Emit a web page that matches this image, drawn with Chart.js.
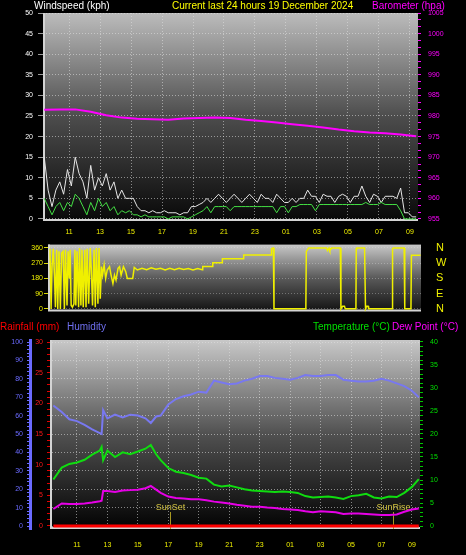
<!DOCTYPE html>
<html>
<head>
<meta charset="utf-8">
<script src="https://cdn.jsdelivr.net/npm/chart.js"></script>
<style>
  body { margin: 0; background: #000; }
  #wrap { position: relative; width: 466px; height: 555px; background: #000; overflow: hidden;
          font-family: "Liberation Sans", Arial, sans-serif; }
  #wrap canvas { position: absolute; left: 0; }
  .lbl { position: absolute; font-size: 10px; line-height: 12px; white-space: nowrap; }
</style>
</head>
<body>
<div id="wrap">
  <canvas id="wind" width="466" height="240" style="top:0"></canvas>
  <canvas id="dir" width="466" height="80" style="top:238px"></canvas>
  <canvas id="env" width="466" height="237" style="top:318px"></canvas>

  <span class="lbl" style="left:34px;top:0;color:#ffffff">Windspeed (kph)</span>
  <span class="lbl" style="left:172px;top:0;color:#ffff00">Current last 24 hours 19 December 2024</span>
  <span class="lbl" style="left:372px;top:0;color:#ff00ff">Barometer (hpa)</span>

  <span class="lbl" style="left:0;top:321px;color:#ff0000">Rainfall (mm)</span>
  <span class="lbl" style="left:67px;top:321px;color:#7070f0">Humidity</span>
  <span class="lbl" style="left:313px;top:321px;color:#00e000">Temperature (°C)</span>
  <span class="lbl" style="left:392px;top:321px;color:#ff00ff">Dew Point (°C)</span>
</div>
<script>
// hours counted from midnight 18 Dec (25 = 01:00 on the 19th)
const tickHours = [11, 13, 15, 17, 19, 21, 23, 25, 27, 29, 31, 33];
const tickLabels = ['11', '13', '15', '17', '19', '21', '23', '01', '03', '05', '07', '09'];

// wind speed, one reading every quarter hour from 09:24
const windStart = 9.4;
const windStep = 0.25;
const windGust = [15, 7,
  3, 7, 9, 6,  12, 8, 15, 11,  9, 5, 13, 7,  10, 8, 11, 7,  9, 5, 7, 5,
  5, 5, 3, 2,  2, 1.5, 2, 1.5,  1.5, 2, 1.5, 1.5,  1.5, 1, 1.5, 1.5,  3, 3, 3.5, 4,
  5, 4, 5, 6,  5, 4, 5, 6,  5, 4, 5, 6,  5, 4, 6, 5,  5, 4, 6, 5,  4, 4, 5, 4,
  5, 5, 7, 5.5,  5.5, 4, 6, 5.5,  5.5, 4, 5.5, 6,  5.5, 4, 5.5, 5.5,  8, 5.5, 4, 6,
  5.5, 4, 5.5, 5.5,  5.5, 5, 7.5, 1.5,  1.5, 0.5, 0.5];
const windAvg = [5, 3,
  1, 3, 4, 2,  4, 3, 6, 5,  3, 1, 4, 2,  5, 3, 4, 2,  3, 1, 2, 1.5,
  2, 1, 1, 0.5,  1, 0.5, 0.5, 0.5,  0.5, 0.5, 0, 0.5,  0.5, 0.5, 0.5, 0,  0.5, 1, 1.5, 2,
  3, 1.5, 3, 3,  3, 3, 2, 3,  3, 3, 3, 3,  3, 3, 3, 3,  3, 3, 1.5, 3,  3, 1.5, 3, 3,
  3.5, 3.5, 3.5, 3.5,  2, 3.5, 3.5, 3.5,  3.5, 3.5, 3.5, 3.5,  3.5, 3.5, 3.5, 3.5,  3.5, 4, 3.5, 3.5,
  3.5, 4, 3.5, 3.5,  3.5, 3.5, 2, 0,  0, 0, 0];

// barometer, hourly from 09:24
const baroStart = 9.4;
const baroValues = [981.5, 981.6, 981.6, 981.0, 980.2, 979.6, 979.3, 979.2, 979.1, 979.4, 979.5, 979.6,
  979.5, 979.1, 978.8, 978.4, 978.0, 977.6, 977.2, 976.7, 976.3, 976.0, 975.8, 975.5, 975.1];

// wind direction (degrees)
const dirTimes = [9.45, 9.52, 9.58, 9.66, 9.74, 9.8, 9.88, 9.95, 10.03, 10.12, 10.2, 10.3, 10.38, 10.45,
  10.55, 10.62, 10.7, 10.75, 10.82, 10.9, 11.0, 11.06, 11.12, 11.2, 11.3, 11.36, 11.45, 11.52, 11.6,
  11.7, 11.78, 11.85, 11.95, 12.05, 12.12, 12.2, 12.3, 12.38, 12.45, 12.55, 12.62, 12.7, 12.78, 12.85,
  12.95, 13.05, 13.15, 13.3, 13.4, 13.52, 13.62, 13.72, 13.85, 13.95, 14.05, 14.2, 14.35, 14.45, 14.8,
  14.9, 15.1, 15.4, 15.7, 16.0, 16.3, 16.6, 16.9, 17.2, 17.5, 17.8, 18.1, 18.4, 18.7, 19.0, 19.3,
  19.33, 19.95, 19.98, 20.58, 20.6, 21.96, 21.98, 23.75, 23.78, 23.9, 23.94, 26.0, 26.03, 26.18,
  27.34, 27.4, 27.5, 27.55, 27.67, 28.23, 28.27, 28.38, 28.5, 28.55, 29.24, 29.26, 29.3, 29.8, 29.86,
  29.93, 30.03, 30.06, 31.58, 31.61, 31.66, 32.36, 32.4, 32.8, 32.83, 33.42];
const dirValues = [355, 0, 250, 355, 200, 10, 350, 0, 340, 0, 330, 340, 0, 350,
  20, 340, 180, 350, 20, 10, 30, 350, 20, 340, 10, 360, 20, 350, 10,
  350, 10, 355, 30, 360, 240, 20, 350, 10, 360, 30, 360, 60, 250, 200,
  260, 180, 230, 250, 200, 150, 200, 170, 240, 250, 200, 250, 220, 180, 180,
  245, 230, 240, 232, 243, 235, 240, 230, 240, 232, 240, 233, 238, 230, 238, 232,
  250, 250, 273, 273, 296, 296, 318, 318, 355, 360, 0, 0, 340, 360,
  360, 345, 360, 345, 360, 360, 0, 15, 15, 0, 0, 355, 360, 360, 0,
  15, 15, 0, 0, 355, 360, 360, 0, 0, 317, 317];
const compassTicks = [0, 90, 180, 270, 360];
const compassLabels = ['N', 'E', 'S', 'W', 'N'];

// humidity, temperature, dew point
const envTimes = [9.45, 10, 10.5, 11, 11.5, 12, 12.5, 12.62, 12.72, 13, 13.5, 14, 14.5, 15, 15.5, 15.85,
  16.2, 16.5, 17, 17.5, 18, 18.5, 19, 19.5, 20, 20.5, 21, 21.5, 22, 22.5, 23, 23.5, 24, 24.5, 25, 25.5,
  26, 26.5, 27, 27.5, 28, 28.5, 29, 29.5, 30, 30.5, 31, 31.5, 32, 32.5, 33, 33.45];
const humidity = [65.5, 62, 58, 57, 55, 52.5, 50.5, 50, 63, 58.5, 60.5, 59, 60.5, 60, 58.5, 56,
  59.5, 60, 66, 69, 70.5, 71.5, 73, 72.5, 79, 78, 77, 77.5, 79, 80, 81.5, 81.5, 80.5, 80, 79.5, 80.5,
  82, 81.5, 81.5, 82, 82, 79.5, 79, 78.5, 78.5, 79, 80, 79, 77.5, 76, 73.5, 70];
const temperature = [10.1, 12.7, 13.5, 13.8, 14.4, 15.5, 16.4, 17.2, 14.3, 16.4, 15.0, 16.0, 15.6, 16.2, 16.8, 17.6,
  15.6, 14.3, 12.6, 11.8, 11.5, 11.1, 10.5, 10.3, 9.0, 8.6, 8.8, 8.4, 8.0, 7.7, 7.6, 7.5, 7.4, 7.5, 7.4, 7.2,
  6.5, 6.2, 6.3, 6.4, 6.2, 5.9, 6.5, 6.7, 7.0, 6.2, 6.0, 6.4, 6.3, 7.2, 8.5, 10.2];
const dewPoint = [3.7, 4.9, 4.8, 4.8, 4.9, 5.1, 5.4, 5.5, 7.6, 7.6, 7.4, 7.7, 7.8, 7.9, 8.2, 8.7,
  7.9, 7.2, 6.4, 6.1, 6.0, 5.8, 5.8, 5.6, 5.3, 5.1, 4.9, 4.6, 4.4, 4.2, 4.2, 4.0, 3.9, 3.7, 3.6, 3.5,
  3.2, 3.0, 3.2, 3.1, 3.0, 2.6, 2.7, 2.7, 2.6, 2.5, 2.4, 2.4, 2.5, 3.1, 3.6, 3.8];
const rainTimes = [9.45, 33.45];
const rainfall = [0, 0];

const sunEvents = [{ label: 'SunSet', hour: 17.1 }, { label: 'SunRise', hour: 31.77 }];

Chart.defaults.font.family = '"Liberation Sans", Arial, sans-serif';
Chart.defaults.font.size = 7;

const GRID = 'rgba(225,225,225,0.55)';

function pts(times, values) {
  return values.map((v, i) => ({ x: times[i], y: v }));
}
function stepTimes(start, step, n) {
  const t = [];
  for (let i = 0; i < n; i++) t.push(+(start + i * step).toFixed(3));
  return t;
}
function tickRange(from, to, step) {
  const out = [];
  for (let v = from; v <= to + 1e-6; v += step) out.push({ value: +v.toFixed(4) });
  return out;
}
const isMult = (v, m) => Math.abs(v - Math.round(v / m) * m) < 0.01;

// gradient plot background + light frame on left/bottom
const plotBg = {
  id: 'plotBg',
  beforeDraw(chart, args, o) {
    const { ctx, chartArea: a } = chart;
    const g = ctx.createLinearGradient(0, a.top, 0, a.bottom);
    g.addColorStop(0, o.top);
    g.addColorStop(0.5, o.mid);
    g.addColorStop(1, o.bottom);
    ctx.save();
    ctx.fillStyle = g;
    ctx.fillRect(a.left, a.top, a.right - a.left, a.bottom - a.top);
    ctx.restore();
  },
  beforeDatasetsDraw(chart) {
    const { ctx, chartArea: a } = chart;
    ctx.save();
    ctx.strokeStyle = '#d4d4d4';
    ctx.lineWidth = 2;
    ctx.beginPath();
    ctx.moveTo(a.left + 1, a.top);
    ctx.lineTo(a.left + 1, a.bottom - 1);
    ctx.lineTo(a.right, a.bottom - 1);
    ctx.stroke();
    ctx.restore();
  }
};

const sunMarks = {
  id: 'sunMarks',
  beforeDatasetsDraw(chart) {
    const { ctx, chartArea: a, scales: { x } } = chart;
    ctx.save();
    ctx.font = '9px "Liberation Sans", Arial, sans-serif';
    ctx.textAlign = 'center';
    ctx.textBaseline = 'bottom';
    sunEvents.forEach(ev => {
      const px = Math.round(x.getPixelForValue(ev.hour)) + 0.5;
      ctx.strokeStyle = '#a89820';
      ctx.lineWidth = 1;
      ctx.beginPath();
      ctx.moveTo(px, a.bottom - 17);
      ctx.lineTo(px, a.bottom);
      ctx.stroke();
      ctx.fillStyle = '#d0c040';
      ctx.fillText(ev.label, px, a.bottom - 17);
    });
    ctx.restore();
  }
};

function timeAxis(min, max, height, pad) {
  return {
    type: 'linear', min, max,
    afterBuildTicks: s => { s.ticks = tickHours.map(v => ({ value: v })); },
    afterFit: s => { s.height = height; },
    grid: { color: GRID, drawTicks: false },
    border: { display: false, dash: [1, 2] },
    ticks: { color: '#f0f000', padding: pad, maxRotation: 0, autoSkip: false,
             callback: v => tickLabels[tickHours.indexOf(v)] }
  };
}

const common = {
  responsive: false, animation: false, devicePixelRatio: 1,
  elements: { point: { radius: 0 }, line: { tension: 0 } },
  events: []
};

// ---- wind speed + barometer
const windTimes = stepTimes(windStart, windStep, windGust.length);
const baroTimes = stepTimes(baroStart, 1, baroValues.length);

new Chart(document.getElementById('wind'), {
  type: 'line',
  data: {
    datasets: [
      { label: 'Average', data: pts(windTimes, windAvg), yAxisID: 'yWind', borderColor: '#44e044', borderWidth: 1 },
      { label: 'Gust', data: pts(windTimes, windGust), yAxisID: 'yWind', borderColor: '#e6e6e6', borderWidth: 1 },
      { label: 'Barometer', data: pts(baroTimes, baroValues), yAxisID: 'yBaro', borderColor: '#ff00ff', borderWidth: 2 }
    ]
  },
  options: {
    ...common,
    layout: { padding: { top: 13 } },
    plugins: { legend: { display: false }, tooltip: { enabled: false },
               plotBg: { top: '#bcbcbc', mid: '#4c4c4c', bottom: '#080808' } },
    scales: {
      x: timeAxis(9.32, 33.52, 19, 7),
      yWind: {
        position: 'left', min: -0.5, max: 50,
        afterBuildTicks: s => { s.ticks = tickRange(0, 50, 5); },
        afterFit: s => { s.width = 43; },
        grid: { color: GRID, tickColor: '#9a9a9a', tickLength: 5 },
        border: { display: false, dash: [1, 2] },
        ticks: { color: '#ffffff', padding: 5 }
      },
      yBaro: {
        position: 'right', min: 954.5, max: 1005,
        afterBuildTicks: s => { s.ticks = tickRange(955, 1005, 5 / 3); },
        afterFit: s => { s.width = 48; },
        grid: { drawOnChartArea: false, tickColor: '#ff00ff', tickLength: 3 },
        border: { display: false },
        ticks: { color: '#ff00ff', padding: 7, autoSkip: false,
                 callback: v => isMult(v, 5) ? Math.round(v) : '' }
      }
    }
  },
  plugins: [plotBg]
});

// ---- wind direction
new Chart(document.getElementById('dir'), {
  type: 'line',
  data: {
    datasets: [
      { label: 'Direction', data: pts(dirTimes, dirValues), yAxisID: 'yDir', borderColor: '#f0f000', borderWidth: 1.5 }
    ]
  },
  options: {
    ...common,
    layout: { padding: { top: 6, bottom: 5 } },
    plugins: { legend: { display: false }, tooltip: { enabled: false },
               plotBg: { top: '#c8c8c8', mid: '#5a5a5a', bottom: '#121212' } },
    scales: {
      x: { type: 'linear', min: 9.32, max: 33.45, display: false },
      yDir: {
        position: 'left', min: -15, max: 380,
        afterBuildTicks: s => { s.ticks = compassTicks.map(v => ({ value: v })); },
        afterFit: s => { s.width = 48; },
        grid: { color: 'rgba(225,225,225,0.35)', tickColor: '#d8d800', tickLength: 4 },
        border: { display: false, dash: [1, 2] },
        ticks: { color: '#f0f000', padding: 1, autoSkip: false }
      },
      yCompass: {
        position: 'right', min: -15, max: 380,
        afterBuildTicks: s => { s.ticks = compassTicks.map(v => ({ value: v })); },
        afterFit: s => { s.width = 45; },
        grid: { drawOnChartArea: false, tickLength: 15, tickColor: 'rgba(0,0,0,0)' },
        border: { display: false },
        ticks: { color: '#f0f000', padding: 0, autoSkip: false, font: { size: 11 },
                 callback: v => compassLabels[compassTicks.indexOf(v)] }
      }
    }
  },
  plugins: [plotBg]
});

// ---- rain, humidity, temperature, dew point
new Chart(document.getElementById('env'), {
  type: 'line',
  data: {
    datasets: [
      { label: 'Rainfall', data: pts(rainTimes, rainfall), yAxisID: 'yRain', borderColor: '#ff0000', borderWidth: 3 },
      { label: 'Dew Point', data: pts(envTimes, dewPoint), yAxisID: 'yTemp', borderColor: '#e600e6', borderWidth: 2 },
      { label: 'Temperature', data: pts(envTimes, temperature), yAxisID: 'yTemp', borderColor: '#10dc10', borderWidth: 2 },
      { label: 'Humidity', data: pts(envTimes, humidity), yAxisID: 'yHum', borderColor: '#7878f0', borderWidth: 2 }
    ]
  },
  options: {
    ...common,
    layout: { padding: { top: 22 } },
    plugins: { legend: { display: false }, tooltip: { enabled: false },
               plotBg: { top: '#c8c8c8', mid: '#505050', bottom: '#020202' } },
    scales: {
      x: timeAxis(9.23, 33.53, 26, 12),
      yHum: {
        position: 'left', weight: 2, min: -1.63, max: 101.09,
        afterBuildTicks: s => { s.ticks = tickRange(0, 100, 2); },
        afterFit: s => { s.width = 30; },
        grid: { color: c => isMult(c.tick.value, 10) ? GRID : 'rgba(0,0,0,0)',
                tickColor: '#6a6aff', tickLength: 3 },
        border: { display: true, color: '#6a6aff', width: 3, dash: [1, 2] },
        ticks: { color: '#6a6aff', padding: 4, autoSkip: false,
                 callback: v => isMult(v, 10) ? v : '' }
      },
      yRain: {
        position: 'left', weight: 1, min: -0.49, max: 30.33,
        afterBuildTicks: s => { s.ticks = tickRange(0, 30, 1); },
        afterFit: s => { s.width = 20; },
        grid: { drawOnChartArea: false, tickColor: '#e00000', tickLength: 3 },
        border: { display: false },
        ticks: { color: '#ff1818', padding: 4, autoSkip: false,
                 callback: v => isMult(v, 5) ? v : '' }
      },
      yTemp: {
        position: 'right', min: -0.65, max: 40.43,
        afterBuildTicks: s => { s.ticks = tickRange(0, 40, 1); },
        afterFit: s => { s.width = 46; },
        grid: { drawOnChartArea: false, tickColor: '#00c800', tickLength: 3 },
        border: { display: false },
        ticks: { color: '#00e000', padding: 7, autoSkip: false,
                 callback: v => isMult(v, 5) ? v : '' }
      }
    }
  },
  plugins: [plotBg, sunMarks]
});
</script>
</body>
</html>
